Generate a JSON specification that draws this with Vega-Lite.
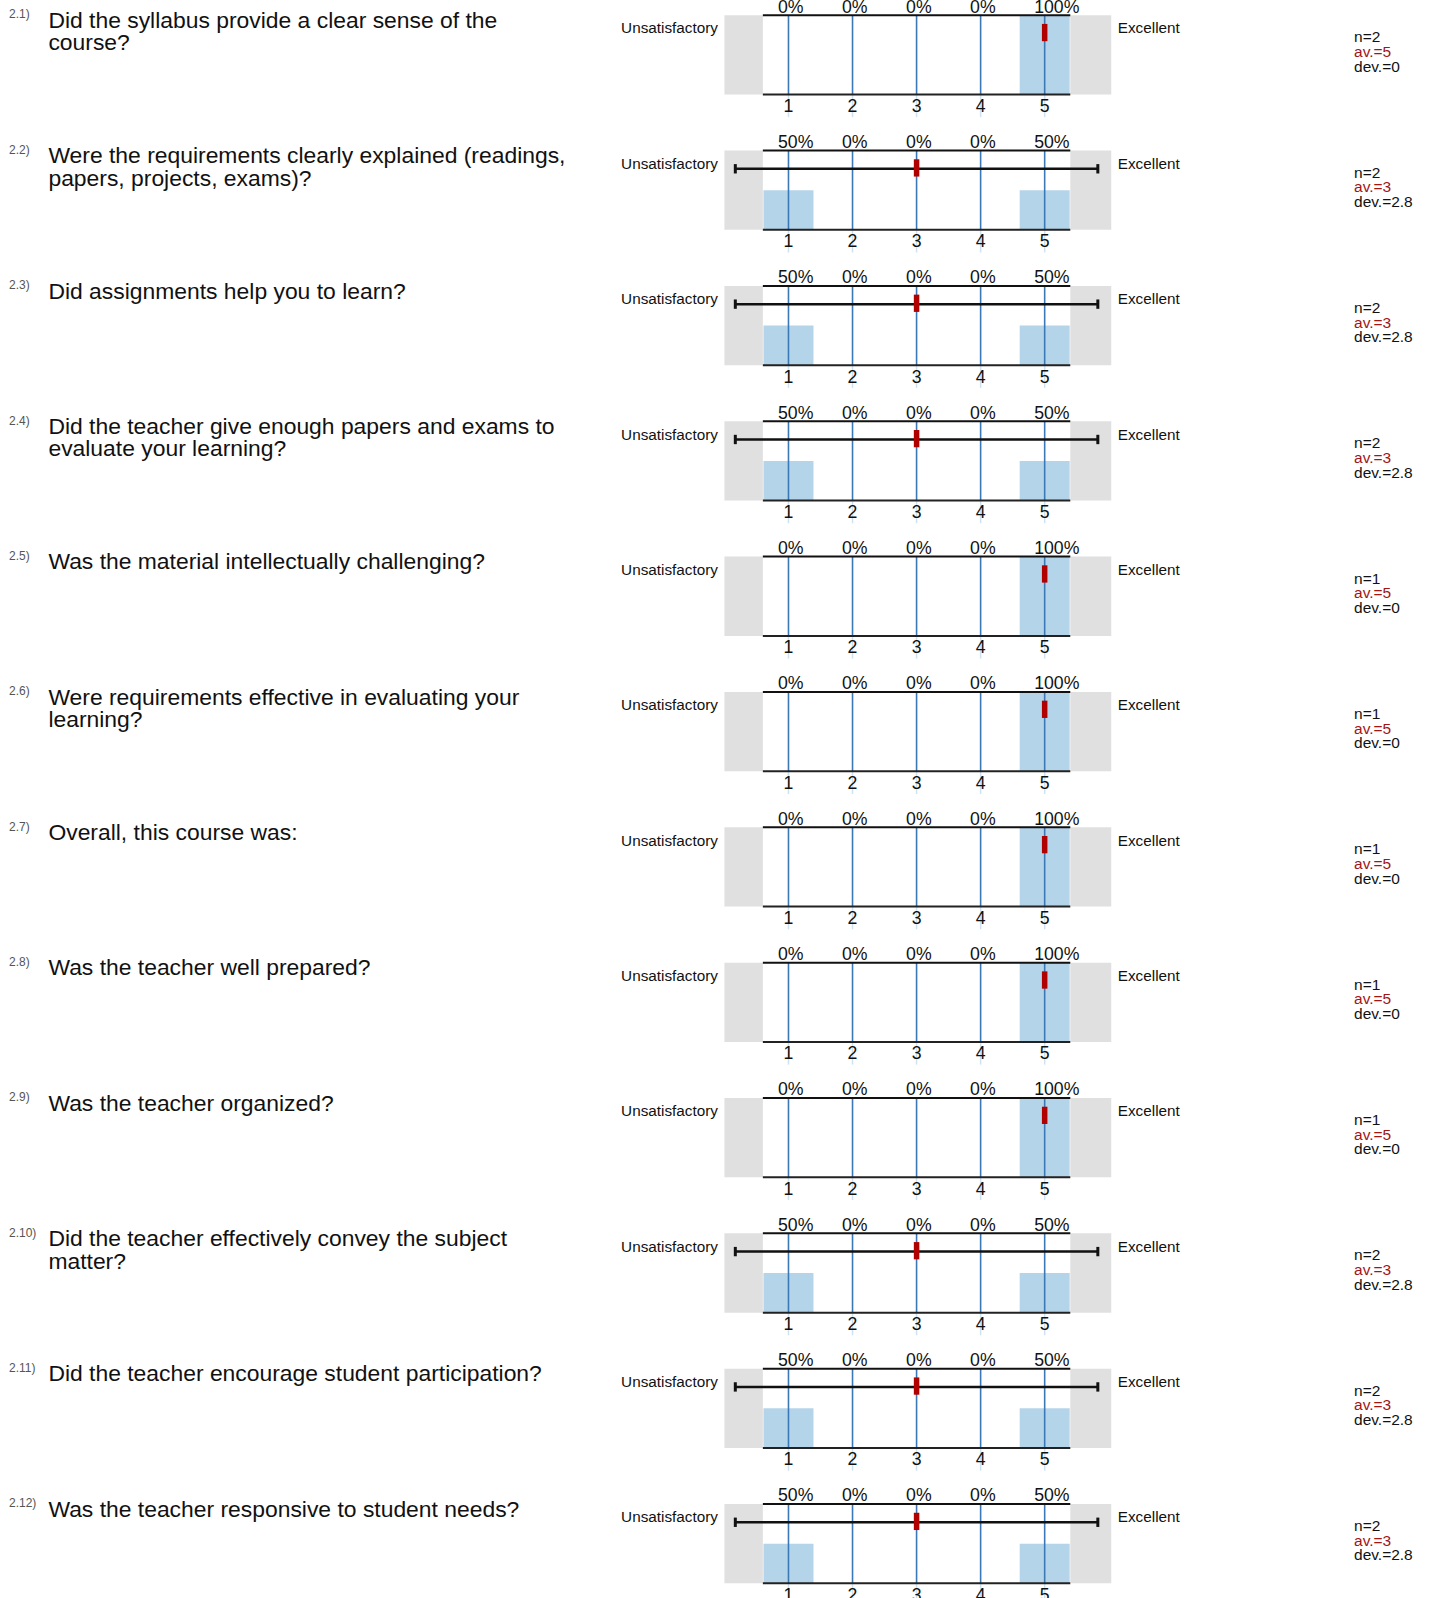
{
  "padding": {"top": -1.8, "left": 0, "right": 0, "bottom": 0},
  "bounds": "flush",
  "background": "white",
  "config": {"view": {"stroke": null}, "font": "Liberation Sans"},
  "data": {"values": [
    {"q": 1, "num": "2.1)", "line1": "Did the syllabus provide a clear sense of the", "line2": "course?", "av": 5, "dev": 0, "nText": "n=2", "avText": "av.=5", "devText": "dev.=0"},
    {"q": 2, "num": "2.2)", "line1": "Were the requirements clearly explained (readings,", "line2": "papers, projects, exams)?", "av": 3, "dev": 2.8, "lo": 0.17, "hi": 5.83, "nText": "n=2", "avText": "av.=3", "devText": "dev.=2.8"},
    {"q": 3, "num": "2.3)", "line1": "Did assignments help you to learn?", "line2": "", "av": 3, "dev": 2.8, "lo": 0.17, "hi": 5.83, "nText": "n=2", "avText": "av.=3", "devText": "dev.=2.8"},
    {"q": 4, "num": "2.4)", "line1": "Did the teacher give enough papers and exams to", "line2": "evaluate your learning?", "av": 3, "dev": 2.8, "lo": 0.17, "hi": 5.83, "nText": "n=2", "avText": "av.=3", "devText": "dev.=2.8"},
    {"q": 5, "num": "2.5)", "line1": "Was the material intellectually challenging?", "line2": "", "av": 5, "dev": 0, "nText": "n=1", "avText": "av.=5", "devText": "dev.=0"},
    {"q": 6, "num": "2.6)", "line1": "Were requirements effective in evaluating your", "line2": "learning?", "av": 5, "dev": 0, "nText": "n=1", "avText": "av.=5", "devText": "dev.=0"},
    {"q": 7, "num": "2.7)", "line1": "Overall, this course was:", "line2": "", "av": 5, "dev": 0, "nText": "n=1", "avText": "av.=5", "devText": "dev.=0"},
    {"q": 8, "num": "2.8)", "line1": "Was the teacher well prepared?", "line2": "", "av": 5, "dev": 0, "nText": "n=1", "avText": "av.=5", "devText": "dev.=0"},
    {"q": 9, "num": "2.9)", "line1": "Was the teacher organized?", "line2": "", "av": 5, "dev": 0, "nText": "n=1", "avText": "av.=5", "devText": "dev.=0"},
    {"q": 10, "num": "2.10)", "line1": "Did the teacher effectively convey the subject", "line2": "matter?", "av": 3, "dev": 2.8, "lo": 0.17, "hi": 5.83, "nText": "n=2", "avText": "av.=3", "devText": "dev.=2.8"},
    {"q": 11, "num": "2.11)", "line1": "Did the teacher encourage student participation?", "line2": "", "av": 3, "dev": 2.8, "lo": 0.17, "hi": 5.83, "nText": "n=2", "avText": "av.=3", "devText": "dev.=2.8"},
    {"q": 12, "num": "2.12)", "line1": "Was the teacher responsive to student needs?", "line2": "", "av": 3, "dev": 2.8, "lo": 0.17, "hi": 5.83, "nText": "n=2", "avText": "av.=3", "devText": "dev.=2.8"},
    {"q": 1, "v": 1, "pct": 0}, {"q": 1, "v": 2, "pct": 0}, {"q": 1, "v": 3, "pct": 0}, {"q": 1, "v": 4, "pct": 0}, {"q": 1, "v": 5, "pct": 1},
    {"q": 2, "v": 1, "pct": 0.5}, {"q": 2, "v": 2, "pct": 0}, {"q": 2, "v": 3, "pct": 0}, {"q": 2, "v": 4, "pct": 0}, {"q": 2, "v": 5, "pct": 0.5},
    {"q": 3, "v": 1, "pct": 0.5}, {"q": 3, "v": 2, "pct": 0}, {"q": 3, "v": 3, "pct": 0}, {"q": 3, "v": 4, "pct": 0}, {"q": 3, "v": 5, "pct": 0.5},
    {"q": 4, "v": 1, "pct": 0.5}, {"q": 4, "v": 2, "pct": 0}, {"q": 4, "v": 3, "pct": 0}, {"q": 4, "v": 4, "pct": 0}, {"q": 4, "v": 5, "pct": 0.5},
    {"q": 5, "v": 1, "pct": 0}, {"q": 5, "v": 2, "pct": 0}, {"q": 5, "v": 3, "pct": 0}, {"q": 5, "v": 4, "pct": 0}, {"q": 5, "v": 5, "pct": 1},
    {"q": 6, "v": 1, "pct": 0}, {"q": 6, "v": 2, "pct": 0}, {"q": 6, "v": 3, "pct": 0}, {"q": 6, "v": 4, "pct": 0}, {"q": 6, "v": 5, "pct": 1},
    {"q": 7, "v": 1, "pct": 0}, {"q": 7, "v": 2, "pct": 0}, {"q": 7, "v": 3, "pct": 0}, {"q": 7, "v": 4, "pct": 0}, {"q": 7, "v": 5, "pct": 1},
    {"q": 8, "v": 1, "pct": 0}, {"q": 8, "v": 2, "pct": 0}, {"q": 8, "v": 3, "pct": 0}, {"q": 8, "v": 4, "pct": 0}, {"q": 8, "v": 5, "pct": 1},
    {"q": 9, "v": 1, "pct": 0}, {"q": 9, "v": 2, "pct": 0}, {"q": 9, "v": 3, "pct": 0}, {"q": 9, "v": 4, "pct": 0}, {"q": 9, "v": 5, "pct": 1},
    {"q": 10, "v": 1, "pct": 0.5}, {"q": 10, "v": 2, "pct": 0}, {"q": 10, "v": 3, "pct": 0}, {"q": 10, "v": 4, "pct": 0}, {"q": 10, "v": 5, "pct": 0.5},
    {"q": 11, "v": 1, "pct": 0.5}, {"q": 11, "v": 2, "pct": 0}, {"q": 11, "v": 3, "pct": 0}, {"q": 11, "v": 4, "pct": 0}, {"q": 11, "v": 5, "pct": 0.5},
    {"q": 12, "v": 1, "pct": 0.5}, {"q": 12, "v": 2, "pct": 0}, {"q": 12, "v": 3, "pct": 0}, {"q": 12, "v": 4, "pct": 0}, {"q": 12, "v": 5, "pct": 0.5}
  ]},
  "facet": {"row": {"field": "q", "type": "ordinal", "title": null, "header": {"labels": false}}},
  "spacing": {"row": 55.35},
  "spec": {
    "width": 1429,
    "height": 79.3,
    "layer": [
      {
        "transform": [{"filter": "isValid(datum.num)"}],
        "mark": {"type": "rect", "color": "#e0e0e0"},
        "encoding": {
          "x": {"datum": 0, "type": "quantitative", "scale": {"domain": [-11.2326, 10.9225], "nice": false, "zero": false}, "axis": null},
          "x2": {"datum": 6.04},
          "y": {"datum": 0, "type": "quantitative", "scale": {"domain": [0, 1], "nice": false, "zero": false}, "axis": null},
          "y2": {"datum": 1}
        }
      },
      {
        "transform": [{"filter": "isValid(datum.num)"}],
        "mark": {"type": "rect", "color": "#ffffff"},
        "encoding": {
          "x": {"datum": 0.6, "type": "quantitative"},
          "x2": {"datum": 5.4},
          "y": {"datum": 0, "type": "quantitative"},
          "y2": {"datum": 1}
        }
      },
      {
        "transform": [{"filter": "isValid(datum.v)"}],
        "mark": {"type": "rule", "color": "#cfe2f2", "strokeWidth": 1.5},
        "encoding": {
          "x": {"field": "v", "type": "quantitative"},
          "y": {"datum": 0, "type": "quantitative"},
          "y2": {"datum": -0.286}
        }
      },
      {
        "transform": [{"filter": "isValid(datum.v)"}],
        "mark": {"type": "bar", "width": 50, "color": "#b4d4ea"},
        "encoding": {
          "x": {"field": "v", "type": "quantitative"},
          "y": {"field": "pct", "type": "quantitative", "stack": null},
          "y2": {"datum": 0}
        }
      },
      {
        "transform": [{"filter": "isValid(datum.v)"}],
        "mark": {"type": "rule", "color": "#3b78b6", "strokeWidth": 1.6},
        "encoding": {
          "x": {"field": "v", "type": "quantitative"},
          "y": {"datum": 0, "type": "quantitative"},
          "y2": {"datum": 1}
        }
      },
      {
        "transform": [{"filter": "isValid(datum.num)"}],
        "mark": {"type": "rule", "color": "#111111", "strokeWidth": 2},
        "encoding": {
          "x": {"datum": 0.6, "type": "quantitative"},
          "x2": {"datum": 5.4},
          "y": {"datum": 1, "type": "quantitative"}
        }
      },
      {
        "transform": [{"filter": "isValid(datum.num)"}],
        "mark": {"type": "rule", "color": "#222222", "strokeWidth": 2},
        "encoding": {
          "x": {"datum": 0.6, "type": "quantitative"},
          "x2": {"datum": 5.4},
          "y": {"datum": 0, "type": "quantitative"}
        }
      },
      {
        "transform": [{"filter": "datum.dev > 0"}],
        "mark": {"type": "rule", "color": "#111111", "strokeWidth": 2.5},
        "encoding": {
          "x": {"field": "lo", "type": "quantitative"},
          "x2": {"field": "hi"},
          "y": {"datum": 0.77, "type": "quantitative"}
        }
      },
      {
        "transform": [{"filter": "datum.dev > 0"}],
        "mark": {"type": "rule", "color": "#111111", "strokeWidth": 3},
        "encoding": {
          "x": {"field": "lo", "type": "quantitative"},
          "y": {"datum": 0.711, "type": "quantitative"},
          "y2": {"datum": 0.829}
        }
      },
      {
        "transform": [{"filter": "datum.dev > 0"}],
        "mark": {"type": "rule", "color": "#111111", "strokeWidth": 3},
        "encoding": {
          "x": {"field": "hi", "type": "quantitative"},
          "y": {"datum": 0.711, "type": "quantitative"},
          "y2": {"datum": 0.829}
        }
      },
      {
        "transform": [{"filter": "isValid(datum.num)"}],
        "mark": {"type": "rule", "color": "#b00000", "strokeWidth": 5.5, "strokeCap": "butt"},
        "encoding": {
          "x": {"field": "av", "type": "quantitative"},
          "y": {"datum": 0.672, "type": "quantitative"},
          "y2": {"datum": 0.89}
        }
      },
      {
        "transform": [{"filter": "isValid(datum.v)"}],
        "mark": {"type": "text", "align": "left", "baseline": "alphabetic", "dx": -10.5, "dy": -2.6, "fontSize": 17.7, "color": "#111111"},
        "encoding": {
          "x": {"field": "v", "type": "quantitative"},
          "y": {"datum": 1, "type": "quantitative"},
          "text": {"field": "pct", "type": "quantitative", "format": ".0%"}
        }
      },
      {
        "transform": [{"filter": "isValid(datum.v)"}],
        "mark": {"type": "text", "align": "center", "baseline": "alphabetic", "dy": 17.4, "fontSize": 17.7, "color": "#111111"},
        "encoding": {
          "x": {"field": "v", "type": "quantitative"},
          "y": {"datum": 0, "type": "quantitative"},
          "text": {"field": "v", "type": "quantitative", "format": "d"}
        }
      },
      {
        "transform": [{"filter": "isValid(datum.num)"}],
        "mark": {"type": "text", "align": "right", "baseline": "alphabetic", "dx": -6.5, "dy": 18.3, "fontSize": 15.3, "color": "#111111", "text": "Unsatisfactory"},
        "encoding": {
          "x": {"datum": 0, "type": "quantitative"},
          "y": {"datum": 1, "type": "quantitative"}
        }
      },
      {
        "transform": [{"filter": "isValid(datum.num)"}],
        "mark": {"type": "text", "align": "left", "baseline": "alphabetic", "dx": 6.5, "dy": 18.3, "fontSize": 15.3, "color": "#111111", "text": "Excellent"},
        "encoding": {
          "x": {"datum": 6.04, "type": "quantitative"},
          "y": {"datum": 1, "type": "quantitative"}
        }
      },
      {
        "transform": [{"filter": "isValid(datum.num)"}],
        "mark": {"type": "text", "align": "left", "baseline": "alphabetic", "dy": 3.3, "fontSize": 12, "color": "#555555"},
        "encoding": {
          "x": {"datum": -11.17, "type": "quantitative"},
          "y": {"datum": 1, "type": "quantitative"},
          "text": {"field": "num", "type": "nominal"}
        }
      },
      {
        "transform": [{"filter": "isValid(datum.num)"}],
        "mark": {"type": "text", "align": "left", "baseline": "alphabetic", "dy": 12.8, "fontSize": 22.9, "color": "#111111"},
        "encoding": {
          "x": {"datum": -10.555, "type": "quantitative"},
          "y": {"datum": 1, "type": "quantitative"},
          "text": {"field": "line1", "type": "nominal"}
        }
      },
      {
        "transform": [{"filter": "isValid(datum.num)"}],
        "mark": {"type": "text", "align": "left", "baseline": "alphabetic", "dy": 35.2, "fontSize": 22.9, "color": "#111111"},
        "encoding": {
          "x": {"datum": -10.555, "type": "quantitative"},
          "y": {"datum": 1, "type": "quantitative"},
          "text": {"field": "line2", "type": "nominal"}
        }
      },
      {
        "transform": [{"filter": "isValid(datum.num)"}],
        "mark": {"type": "text", "align": "left", "baseline": "alphabetic", "dy": 27, "fontSize": 15.5, "color": "#111111"},
        "encoding": {
          "x": {"datum": 9.83, "type": "quantitative"},
          "y": {"datum": 1, "type": "quantitative"},
          "text": {"field": "nText", "type": "nominal"}
        }
      },
      {
        "transform": [{"filter": "isValid(datum.num)"}],
        "mark": {"type": "text", "align": "left", "baseline": "alphabetic", "dy": 41.7, "fontSize": 15.5, "color": "#a31515"},
        "encoding": {
          "x": {"datum": 9.83, "type": "quantitative"},
          "y": {"datum": 1, "type": "quantitative"},
          "text": {"field": "avText", "type": "nominal"}
        }
      },
      {
        "transform": [{"filter": "isValid(datum.num)"}],
        "mark": {"type": "text", "align": "left", "baseline": "alphabetic", "dy": 56.4, "fontSize": 15.5, "color": "#111111"},
        "encoding": {
          "x": {"datum": 9.83, "type": "quantitative"},
          "y": {"datum": 1, "type": "quantitative"},
          "text": {"field": "devText", "type": "nominal"}
        }
      }
    ]
  }
}
